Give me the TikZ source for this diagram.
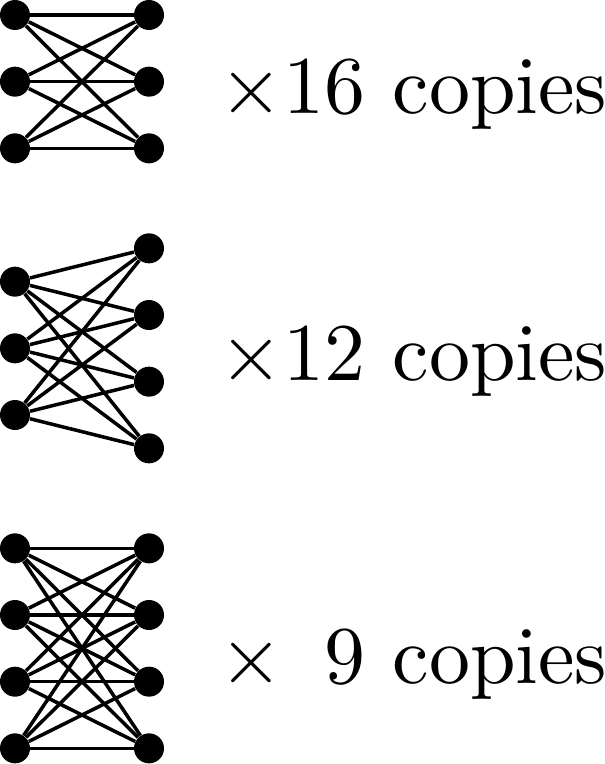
\documentclass[tikz,border=0pt]{standalone}
\begin{document}
\begin{tikzpicture}[
  dot/.style={circle,fill=black,inner sep=0pt,minimum size=0.45cm},
  edge/.style={line width=1.5pt,black},
  lbl/.style={anchor=base west,inner sep=0pt,scale=3.5,transform shape}
]
\useasboundingbox (0,0) rectangle (9.075,-11.46);
% graph 1: K_{3,3}
\foreach \i/\y in {1/0.225,2/1.225,3/2.225}{
  \node[dot] (a\i) at (0.225,-\y) {};
  \node[dot] (b\i) at (2.235,-\y) {};
}
\foreach \i in {1,2,3}{\foreach \j in {1,2,3}{\draw[edge] (a\i) -- (b\j);}}
% graph 2: K_{3,4}
\foreach \i/\y in {1/4.225,2/5.225,3/6.225}{
  \node[dot] (c\i) at (0.225,-\y) {};
}
\foreach \i/\y in {1/3.725,2/4.725,3/5.725,4/6.725}{
  \node[dot] (d\i) at (2.235,-\y) {};
}
\foreach \i in {1,2,3}{\foreach \j in {1,2,3,4}{\draw[edge] (c\i) -- (d\j);}}
% graph 3: K_{4,4}
\foreach \i/\y in {1/8.225,2/9.225,3/10.225,4/11.225}{
  \node[dot] (e\i) at (0.225,-\y) {};
  \node[dot] (f\i) at (2.235,-\y) {};
}
\foreach \i in {1,2,3,4}{\foreach \j in {1,2,3,4}{\draw[edge] (e\i) -- (f\j);}}
% labels
\node[lbl] (t1) at (3.27,-1.70) {$\times16$ copies};
\node[lbl] (t2) at (3.27,-5.70) {$\times12$ copies};
\node[lbl] (t3) at (3.27,-10.25) {$\times\phantom{1}9$ copies};
\end{tikzpicture}
\end{document}
